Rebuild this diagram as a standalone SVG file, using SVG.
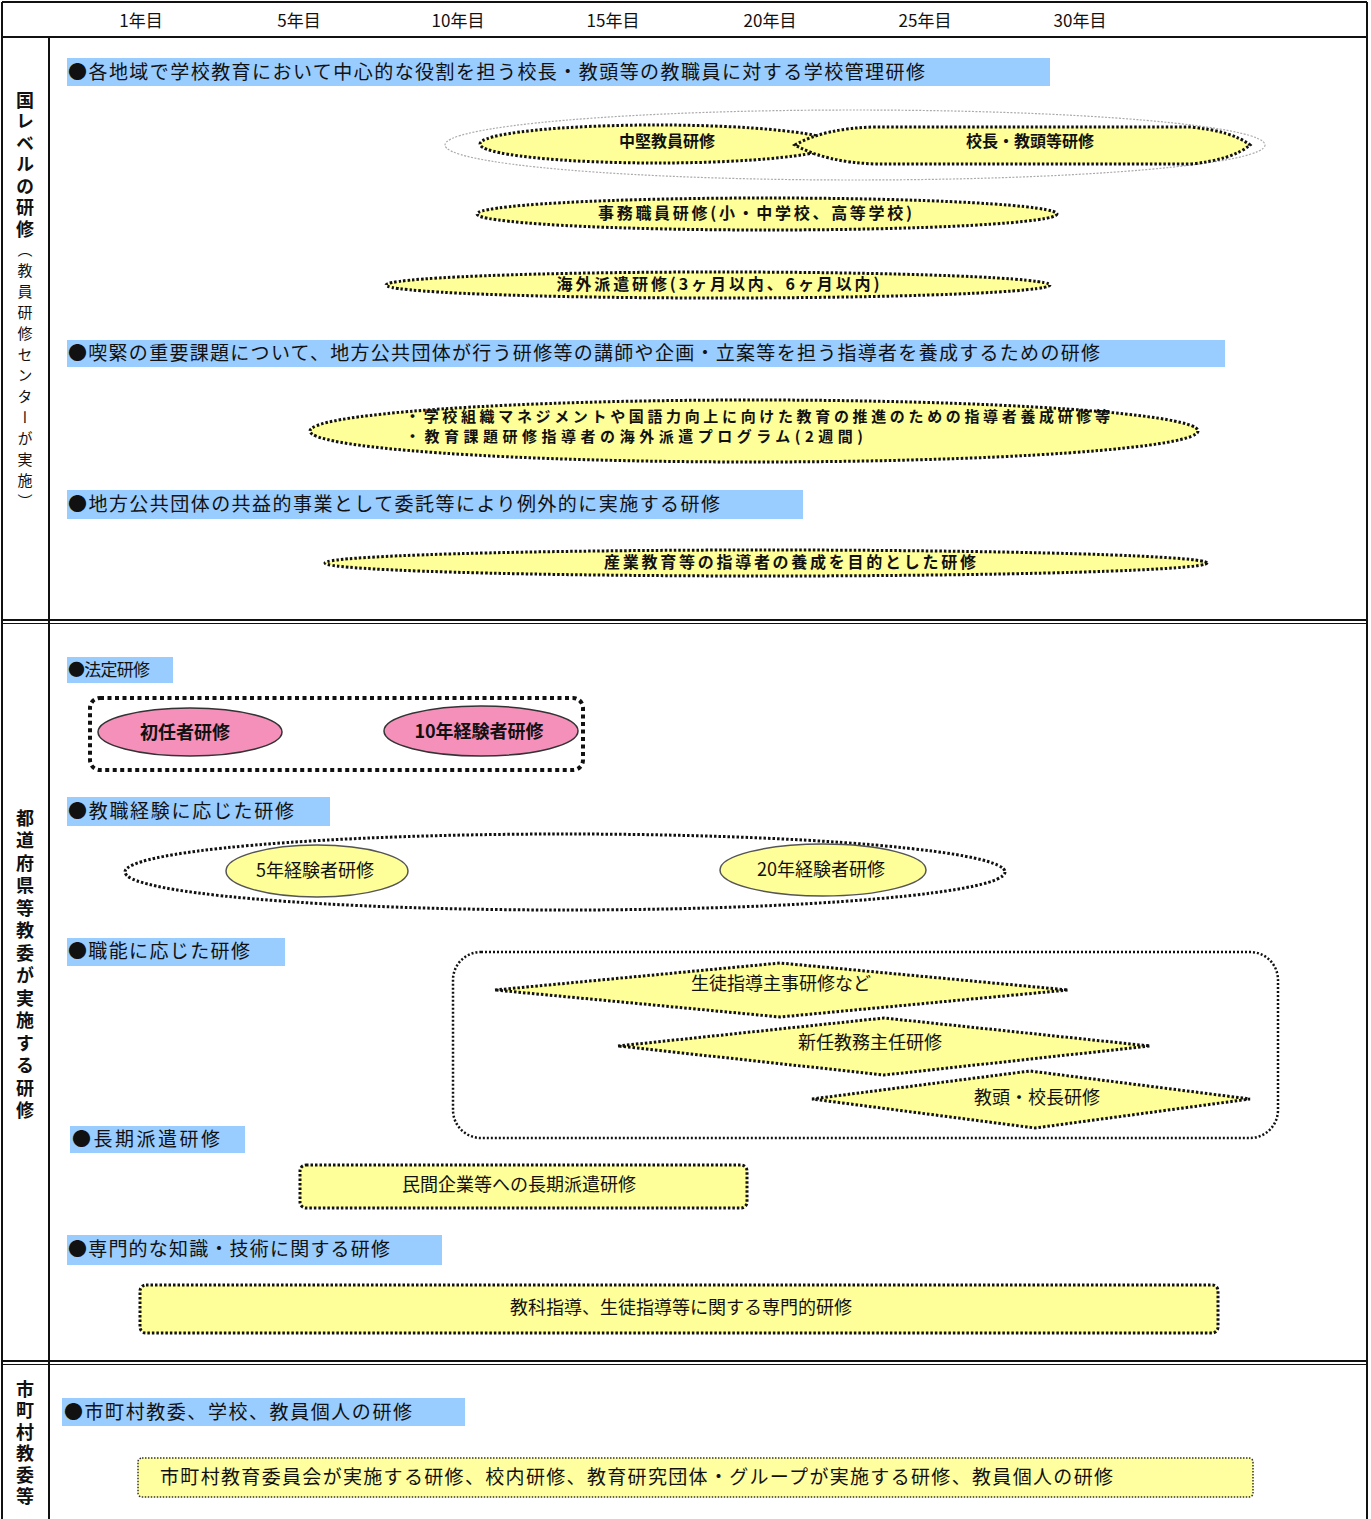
<svg xmlns="http://www.w3.org/2000/svg" width="1371" height="1519" viewBox="0 0 1371 1519">
<style>
text{font-family:"Noto Sans CJK JP","Noto Sans CJK SC",sans-serif;fill:#111}
.hd{font-size:17px;text-anchor:middle}
.bar{fill:#99CCFF}
.bt{font-size:19px}
.vt{writing-mode:vertical-rl;font-weight:bold;font-size:18px}
.nt{font-size:16px;font-weight:bold;text-anchor:middle}
.ct{font-size:18px;text-anchor:middle}
.y{fill:#FFFF99;stroke:#111;stroke-width:3;stroke-dasharray:2.5 2}
.frame{stroke:#111;stroke-width:2;fill:none}
</style>
<g id="frame">
<line class="frame" x1="2" y1="2" x2="1367" y2="2"/>
<line class="frame" x1="2" y1="2" x2="2" y2="1519"/>
<line class="frame" x1="1367" y1="2" x2="1367" y2="1519"/>
<line class="frame" x1="2" y1="37" x2="1367" y2="37"/>
<line class="frame" x1="49" y1="37" x2="49" y2="1519"/>
<line class="frame" x1="2" y1="620" x2="1367" y2="620"/>
<line x1="2" y1="623.5" x2="1367" y2="623.5" stroke="#111" stroke-width="1"/>
<line class="frame" x1="2" y1="1361" x2="1367" y2="1361"/>
<line x1="2" y1="1364.5" x2="1367" y2="1364.5" stroke="#111" stroke-width="1"/>
</g>
<g id="header">
<text class="hd" x="141" y="27">1年目</text>
<text class="hd" x="299" y="27">5年目</text>
<text class="hd" x="458" y="27">10年目</text>
<text class="hd" x="613" y="27">15年目</text>
<text class="hd" x="770" y="27">20年目</text>
<text class="hd" x="925" y="27">25年目</text>
<text class="hd" x="1080" y="27">30年目</text>
</g>
<g id="section-labels">
<text class="vt" x="25" y="91" letter-spacing="3.5">国レベルの研修<tspan font-size="15" font-weight="normal" letter-spacing="6">（教員研修センターが実施）</tspan></text>
<text class="vt" x="25" y="809" letter-spacing="4.5">都道府県等教委が実施する研修</text>
<text class="vt" x="25" y="1380" letter-spacing="3.5">市町村教委等</text>
</g>
<g id="connectors"></g>
<g id="bar-kokka1"><rect class="bar" x="67" y="58" width="983" height="28"/><text class="bt" x="68" y="79" textLength="857">●各地域で学校教育において中心的な役割を担う校長・教頭等の教職員に対する学校管理研修</text></g>
<g id="group-kanri"><ellipse cx="855" cy="145" rx="410" ry="35" fill="none" stroke="#aaa" stroke-width="1.2" stroke-dasharray="2 1.5"/></g>
<g id="chuken"><ellipse class="y" cx="657" cy="144" rx="177" ry="19"/><text class="nt" x="667" y="147">中堅教員研修</text></g>
<g id="kocho"><path class="y" d="M795,145 Q825,128 875,127 L1190,127 Q1232,131 1250,145 Q1232,160 1190,164 L875,164 Q825,162 795,145 Z"/><text class="nt" x="1030" y="147">校長・教頭等研修</text></g>
<g id="jimu"><ellipse class="y" cx="767" cy="214" rx="290" ry="16"/><text class="nt" x="755" y="219" textLength="314">事務職員研修(小・中学校、高等学校)</text></g>
<g id="kaigai"><ellipse class="y" cx="718" cy="285" rx="332" ry="13"/><text class="nt" x="718" y="290" textLength="323">海外派遣研修(3ヶ月以内、6ヶ月以内)</text></g>
<g id="bar-kokka2"><rect class="bar" x="67" y="340" width="1158" height="27"/><text class="bt" x="68" y="360" textLength="1032">●喫緊の重要課題について、地方公共団体が行う研修等の講師や企画・立案等を担う指導者を養成するための研修</text></g>
<g id="shidosha"><ellipse class="y" cx="754" cy="431" rx="444" ry="31"/><text font-size="15" font-weight="bold" x="405" y="422" textLength="705">・学校組織マネジメントや国語力向上に向けた教育の推進のための指導者養成研修等</text><text font-size="15" font-weight="bold" x="405" y="442" textLength="458">・教育課題研修指導者の海外派遣プログラム(2週間)</text></g>
<g id="bar-kokka3"><rect class="bar" x="67" y="490" width="736" height="29"/><text class="bt" x="68" y="511" textLength="652">●地方公共団体の共益的事業として委託等により例外的に実施する研修</text></g>
<g id="sangyo"><ellipse class="y" cx="766" cy="563" rx="441" ry="13"/><text class="nt" x="790" y="568" textLength="372">産業教育等の指導者の養成を目的とした研修</text></g>
<g id="bar-hotei"><rect class="bar" x="67" y="657" width="106" height="26"/><text x="68" y="676" font-size="17" textLength="82">●法定研修</text></g>
<g id="hotei-group"><rect x="90" y="698" width="493" height="72" rx="10" fill="none" stroke="#111" stroke-width="4" stroke-dasharray="4 3.5"/></g>
<g id="shoninsha"><ellipse cx="190" cy="732" rx="92" ry="24" fill="#F490BA" stroke="#333" stroke-width="1.5"/><text class="ct" font-weight="bold" x="185" y="739">初任者研修</text></g>
<g id="juunen"><ellipse cx="481" cy="731" rx="97" ry="25" fill="#F490BA" stroke="#333" stroke-width="1.5"/><text class="ct" font-weight="bold" x="479" y="738">10年経験者研修</text></g>
<g id="bar-keiken"><rect class="bar" x="67" y="797" width="263" height="29"/><text class="bt" x="68" y="818" textLength="226">●教職経験に応じた研修</text></g>
<g id="keiken-group"><ellipse cx="565" cy="872" rx="440" ry="38" fill="none" stroke="#111" stroke-width="3" stroke-dasharray="2.5 2"/></g>
<g id="gonen"><ellipse cx="317" cy="871" rx="91" ry="26" fill="#FFFF99" stroke="#555" stroke-width="1.5"/><text class="ct" x="315" y="877">5年経験者研修</text></g>
<g id="nijuunen"><ellipse cx="823" cy="870" rx="103" ry="26" fill="#FFFF99" stroke="#555" stroke-width="1.5"/><text class="ct" x="821" y="876">20年経験者研修</text></g>
<g id="bar-shokuno"><rect class="bar" x="67" y="938" width="218" height="28"/><text class="bt" x="68" y="958" textLength="182">●職能に応じた研修</text></g>
<g id="shokuno-group"><rect x="453" y="952" width="825" height="186" rx="28" fill="none" stroke="#111" stroke-width="2.5" stroke-dasharray="2 2"/></g>
<g id="seito"><polygon class="y" points="495,990 780,963 1068,990 780,1017"/><text class="ct" x="781" y="990">生徒指導主事研修など</text></g>
<g id="kyomu"><polygon class="y" points="618,1046 884,1018 1150,1046 884,1075"/><text class="ct" x="870" y="1049">新任教務主任研修</text></g>
<g id="kyoto"><polygon class="y" points="812,1099 1030,1071 1250,1099 1035,1128"/><text class="ct" x="1037" y="1104">教頭・校長研修</text></g>
<g id="bar-choki"><rect class="bar" x="70" y="1126" width="175" height="27"/><text x="72" y="1146" font-size="19" textLength="148">●長期派遣研修</text></g>
<g id="minkan"><rect class="y" x="300" y="1165" width="447" height="43" rx="6"/><text class="ct" x="519" y="1191">民間企業等への長期派遣研修</text></g>
<g id="bar-senmon"><rect class="bar" x="67" y="1235" width="375" height="30"/><text class="bt" x="68" y="1256" textLength="322">●専門的な知識・技術に関する研修</text></g>
<g id="senmon"><rect class="y" x="140" y="1285" width="1078" height="48" rx="6"/><text class="ct" x="681" y="1314">教科指導、生徒指導等に関する専門的研修</text></g>
<g id="bar-shichoson"><rect class="bar" x="62" y="1398" width="403" height="28"/><text class="bt" x="64" y="1419" textLength="348">●市町村教委、学校、教員個人の研修</text></g>
<g id="shichoson"><rect x="138" y="1458" width="1115" height="39" rx="4" fill="#FFFFA0" stroke="#333" stroke-width="1.5" stroke-dasharray="1.5 1.5"/><text font-size="19" x="160" y="1484" textLength="953">市町村教育委員会が実施する研修、校内研修、教育研究団体・グループが実施する研修、教員個人の研修</text></g>
</svg>
